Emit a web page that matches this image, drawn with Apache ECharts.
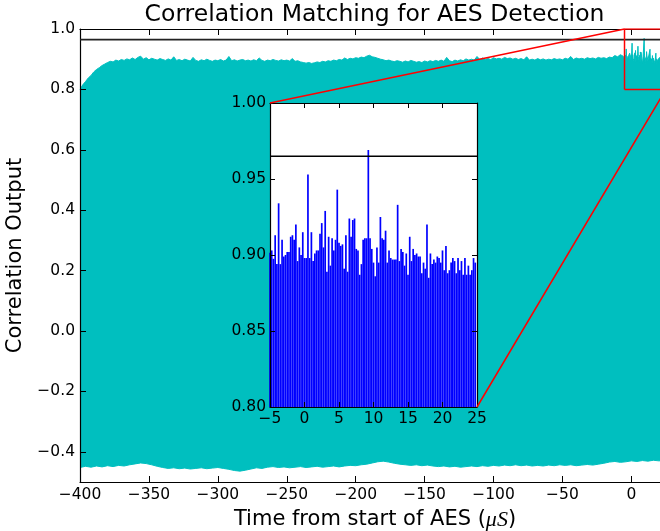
<!DOCTYPE html>
<html><head><meta charset="utf-8">
<script src="https://cdn.jsdelivr.net/npm/echarts@6/dist/echarts.min.js"></script>
<style>html,body{margin:0;padding:0;background:#fff}#c{width:660px;height:531px}</style>
</head><body><div id="c"></div>
<script>
const titleText = 'Correlation Matching for AES Detection';
const xName = 'Time from start of AES (';
const yName = 'Correlation Output';
const xTicks = [-400, -350, -300, -250, -200, -150, -100, -50, 0];
const yTicks = [-0.4, -0.2, 0.0, 0.2, 0.4, 0.6, 0.8, 1.0];
const insetXTicks = [-5, 0, 5, 10, 15, 20, 25];
const insetYTicks = [0.80, 0.85, 0.90, 0.95, 1.00];
const xRange = [-400, 28];
const yRange = [-0.5, 1.0];
const zoomX = [-5, 25];
const zoomY = [0.80, 1.00];
const threshold = 0.965;

// upper envelope of the correlation output, every 2 us from -400 to -6
const mainStart = -400, mainStep = 2;
const mainTop = [
0.800,0.815,0.826,0.838,0.846,0.858,0.866,0.872,0.879,0.884,
0.889,0.893,0.891,0.897,0.894,0.899,0.896,0.901,0.898,0.904,
0.899,0.906,0.910,0.900,0.905,0.898,0.903,0.900,0.897,0.902,
0.899,0.896,0.901,0.897,0.908,0.896,0.899,0.895,0.900,0.897,
0.894,0.906,0.896,0.893,0.898,0.895,0.900,0.896,0.893,0.897,
0.895,0.899,0.894,0.897,0.909,0.895,0.898,0.894,0.897,0.899,
0.895,0.897,0.894,0.898,0.895,0.904,0.896,0.893,0.897,0.895,
0.899,0.896,0.894,0.898,0.895,0.897,0.894,0.902,0.893,0.895,
0.891,0.889,0.887,0.889,0.886,0.888,0.891,0.889,0.893,0.891,
0.895,0.893,0.897,0.895,0.899,0.897,0.904,0.899,0.903,0.901,
0.905,0.903,0.907,0.905,0.910,0.913,0.908,0.906,0.903,0.900,
0.898,0.895,0.897,0.894,0.892,0.895,0.893,0.890,0.894,0.891,
0.896,0.893,0.890,0.892,0.889,0.894,0.891,0.895,0.892,0.896,
0.893,0.897,0.893,0.906,0.895,0.892,0.897,0.894,0.898,0.895,
0.901,0.897,0.900,0.897,0.909,0.899,0.904,0.900,0.902,0.899,
0.905,0.901,0.903,0.900,0.906,0.902,0.904,0.900,0.903,0.899,
0.902,0.898,0.908,0.897,0.900,0.897,0.902,0.898,0.901,0.897,
0.900,0.898,0.902,0.899,0.901,0.898,0.903,0.900,0.909,0.899,
0.904,0.901,0.903,0.900,0.905,0.902,0.904,0.901,0.906,0.903,
0.905,0.902,0.907,0.905,0.912,0.908,0.915,0.910
];

// zoomed window, every 0.25 us from -5
const insetStart = -5, insetStep = 0.25;
const insetValues = [
0.9015,0.903,0.8975,0.913,0.894,0.934,0.894,0.910,0.899,0.900,
0.902,0.902,0.912,0.913,0.910,0.920,0.896,0.905,0.900,0.915,
0.898,0.898,0.953,0.898,0.915,0.896,0.901,0.903,0.903,0.914,
0.921,0.905,0.929,0.889,0.912,0.893,0.911,0.903,0.910,0.943,
0.908,0.906,0.907,0.891,0.913,0.889,0.924,0.912,0.923,0.924,
0.904,0.903,0.887,0.894,0.910,0.911,0.911,0.969,0.911,0.904,
0.895,0.886,0.905,0.895,0.925,0.911,0.910,0.916,0.895,0.903,
0.898,0.897,0.897,0.897,0.933,0.896,0.904,0.902,0.893,0.901,
0.887,0.912,0.896,0.904,0.900,0.901,0.899,0.899,0.888,0.895,
0.891,0.920,0.885,0.901,0.894,0.897,0.895,0.899,0.898,0.895,
0.903,0.890,0.906,0.888,0.890,0.895,0.898,0.896,0.888,0.898,
0.890,0.896,0.887,0.898,0.887,0.893,0.887,0.890,0.898,0.895
];

const tailStart = 25, tailStep = 1;
const tailTop = [0.898, 0.902, 0.896, 0.900];

// lower envelope, every 4 us from -400
const lowStart = -400, lowStep = 4;
const mainBottom = [
-0.452,-0.448,-0.451,-0.447,-0.450,-0.446,-0.449,-0.445,-0.447,-0.443,
-0.440,-0.437,-0.439,-0.443,-0.448,-0.452,-0.455,-0.453,-0.456,-0.454,
-0.457,-0.455,-0.453,-0.456,-0.454,-0.452,-0.455,-0.458,-0.462,-0.464,
-0.461,-0.457,-0.453,-0.455,-0.451,-0.449,-0.452,-0.450,-0.453,-0.451,
-0.449,-0.452,-0.450,-0.448,-0.451,-0.449,-0.447,-0.450,-0.447,-0.445,
-0.446,-0.443,-0.441,-0.437,-0.433,-0.431,-0.434,-0.438,-0.441,-0.443,
-0.445,-0.443,-0.446,-0.444,-0.447,-0.449,-0.447,-0.450,-0.448,-0.451,
-0.449,-0.447,-0.449,-0.446,-0.448,-0.445,-0.447,-0.444,-0.446,-0.443,
-0.446,-0.444,-0.447,-0.445,-0.447,-0.444,-0.446,-0.443,-0.445,-0.443,
-0.446,-0.444,-0.442,-0.444,-0.441,-0.438,-0.434,-0.432,-0.435,-0.433,
-0.430,-0.432,-0.429,-0.431,-0.428,-0.430,-0.428,-0.429
];

const CYAN = '#00bfbf';
const FONT = 'DejaVu Sans';
const minus = s => String(s).replace('-', '\u2212');

const upperData = []
  .concat(mainTop.map((v, i) => [mainStart + i * mainStep, v]))
  .concat(insetValues.map((v, i) => [insetStart + i * insetStep, v]))
  .concat(tailTop.map((v, i) => [tailStart + i * tailStep, v]));
const lowerData = mainBottom.map((v, i) => [lowStart + i * lowStep, v]);
const insetData = insetValues.map((v, i) => [insetStart + i * insetStep, v]);
const rectData = [[zoomX[0], zoomY[0]], [zoomX[1], zoomY[0]], [zoomX[1], zoomY[1]], [zoomX[0], zoomY[1]], [zoomX[0], zoomY[0]]];

const tickStyle = {color: '#000', width: 1};
const lbl = {fontFamily: FONT, fontSize: 15.5, color: '#000'};

const chart = echarts.init(document.getElementById('c'), null, {renderer: 'canvas'});
chart.setOption({
  animation: false,
  backgroundColor: '#fff',
  grid: [
    {left: 80, top: 29, width: 590, height: 453, show: false, containLabel: false, outerBoundsMode: 'none'},
    {left: 270, top: 103, width: 207, height: 304, show: true, backgroundColor: '#fff', borderWidth: 0, z: 5, containLabel: false, outerBoundsMode: 'none'}
  ],
  xAxis: [
    {gridIndex: 0, type: 'value', min: xRange[0], max: xRange[1], position: 'bottom', z: 3,
     axisLine: {show: true, onZero: false, lineStyle: {color: '#000', width: 1.2}},
     axisTick: {show: true, inside: true, length: 6, lineStyle: tickStyle, customValues: xTicks},
     axisLabel: Object.assign({show: true, margin: 5, customValues: xTicks, formatter: v => minus(v)}, lbl),
     splitLine: {show: false},
     name: xName + '{i|\u03bcS})', nameLocation: 'middle', nameGap: 27,
     nameTextStyle: {fontFamily: FONT, fontSize: 21, color: '#000',
       rich: {i: {fontFamily: 'Liberation Serif', fontStyle: 'italic', fontSize: 22, color: '#000'}}}
    },
    {gridIndex: 0, type: 'value', min: xRange[0], max: xRange[1], position: 'top', z: 3,
     axisLine: {show: true, onZero: false, lineStyle: {color: '#000', width: 1.2}},
     axisTick: {show: true, inside: true, length: 6, lineStyle: tickStyle, customValues: xTicks},
     axisLabel: {show: false}, splitLine: {show: false}
    },
    {gridIndex: 1, type: 'value', min: zoomX[0], max: zoomX[1], interval: 5, position: 'bottom', z: 7,
     axisLine: {show: true, onZero: false, lineStyle: {color: '#000', width: 1.2}},
     axisTick: {show: true, inside: true, length: 5, lineStyle: tickStyle},
     axisLabel: Object.assign({show: true, margin: 4, formatter: v => minus(v)}, lbl),
     splitLine: {show: false}
    },
    {gridIndex: 1, type: 'value', min: zoomX[0], max: zoomX[1], interval: 5, position: 'top', z: 7,
     axisLine: {show: true, onZero: false, lineStyle: {color: '#000', width: 1.2}},
     axisTick: {show: true, inside: true, length: 5, lineStyle: tickStyle},
     axisLabel: {show: false}, splitLine: {show: false}
    }
  ],
  yAxis: [
    {gridIndex: 0, type: 'value', min: yRange[0], max: yRange[1], position: 'left', z: 3,
     axisLine: {show: true, onZero: false, lineStyle: {color: '#000', width: 1.2}},
     axisTick: {show: true, inside: true, length: 6, lineStyle: tickStyle, customValues: yTicks},
     axisLabel: Object.assign({show: true, margin: 5, customValues: yTicks, formatter: v => minus(v.toFixed(1))}, lbl),
     splitLine: {show: false},
     name: yName, nameLocation: 'middle', nameGap: 40, nameRotate: 90,
     nameTextStyle: {fontFamily: FONT, fontSize: 21, color: '#000'}
    },
    {gridIndex: 1, type: 'value', min: zoomY[0], max: zoomY[1], interval: 0.05, position: 'left', z: 7,
     axisLine: {show: true, onZero: false, lineStyle: {color: '#000', width: 1.2}},
     axisTick: {show: true, inside: true, length: 5, lineStyle: tickStyle},
     axisLabel: Object.assign({show: true, margin: 4, formatter: v => v.toFixed(2)}, lbl),
     splitLine: {show: false}
    },
    {gridIndex: 1, type: 'value', min: zoomY[0], max: zoomY[1], interval: 0.05, position: 'right', z: 7,
     axisLine: {show: true, onZero: false, lineStyle: {color: '#000', width: 1.2}},
     axisTick: {show: true, inside: true, length: 5, lineStyle: tickStyle},
     axisLabel: {show: false}, splitLine: {show: false}
    }
  ],
  series: [
    {type: 'line', xAxisIndex: 0, yAxisIndex: 0, data: upperData, symbol: 'none', z: 2,
     lineStyle: {color: CYAN, width: 1}, areaStyle: {color: CYAN, opacity: 1, origin: -0.2}, silent: true},
    {type: 'line', xAxisIndex: 0, yAxisIndex: 0, data: lowerData, symbol: 'none', z: 2,
     lineStyle: {color: CYAN, width: 1}, areaStyle: {color: CYAN, opacity: 1, origin: 'auto'}, silent: true},
    {type: 'line', xAxisIndex: 0, yAxisIndex: 0, data: [[xRange[0], threshold], [xRange[1], threshold]], symbol: 'none', z: 3,
     lineStyle: {color: '#222', width: 1.8}, silent: true},
    {type: 'line', xAxisIndex: 0, yAxisIndex: 0, data: rectData, symbol: 'none', z: 4,
     lineStyle: {color: '#ff0000', width: 1.5}, silent: true},
    {type: 'bar', xAxisIndex: 2, yAxisIndex: 1, data: insetData, barWidth: 1.7, z: 6, clip: true,
     itemStyle: {color: '#0000ff'}, silent: true},
    {type: 'line', xAxisIndex: 2, yAxisIndex: 1, data: [[zoomX[0], threshold], [zoomX[1], threshold]], symbol: 'none', z: 7,
     lineStyle: {color: '#000', width: 1.5}, silent: true}
  ]
});

const p1 = chart.convertToPixel({xAxisIndex: 0, yAxisIndex: 0}, [zoomX[0], zoomY[1]]);
const q1 = chart.convertToPixel({xAxisIndex: 2, yAxisIndex: 1}, [zoomX[0], zoomY[1]]);
const p2 = chart.convertToPixel({xAxisIndex: 0, yAxisIndex: 0}, [zoomX[1], zoomY[0]]);
const q2 = chart.convertToPixel({xAxisIndex: 2, yAxisIndex: 1}, [zoomX[1], zoomY[0]]);
chart.setOption({
  graphic: [
    {type: 'line', z: 20, silent: true, shape: {x1: p1[0], y1: p1[1], x2: q1[0], y2: q1[1]}, style: {stroke: '#ff0000', lineWidth: 1.5}},
    {type: 'line', z: 20, silent: true, shape: {x1: p2[0], y1: p2[1], x2: q2[0], y2: q2[1]}, style: {stroke: '#ff0000', lineWidth: 1.5}},
    {type: 'text', z: 20, silent: true, x: 374.5, y: 15,
     style: {text: titleText, font: '23.5px "DejaVu Sans"', fill: '#000', textAlign: 'center', textVerticalAlign: 'middle'}}
  ]
});
</script></body></html>
